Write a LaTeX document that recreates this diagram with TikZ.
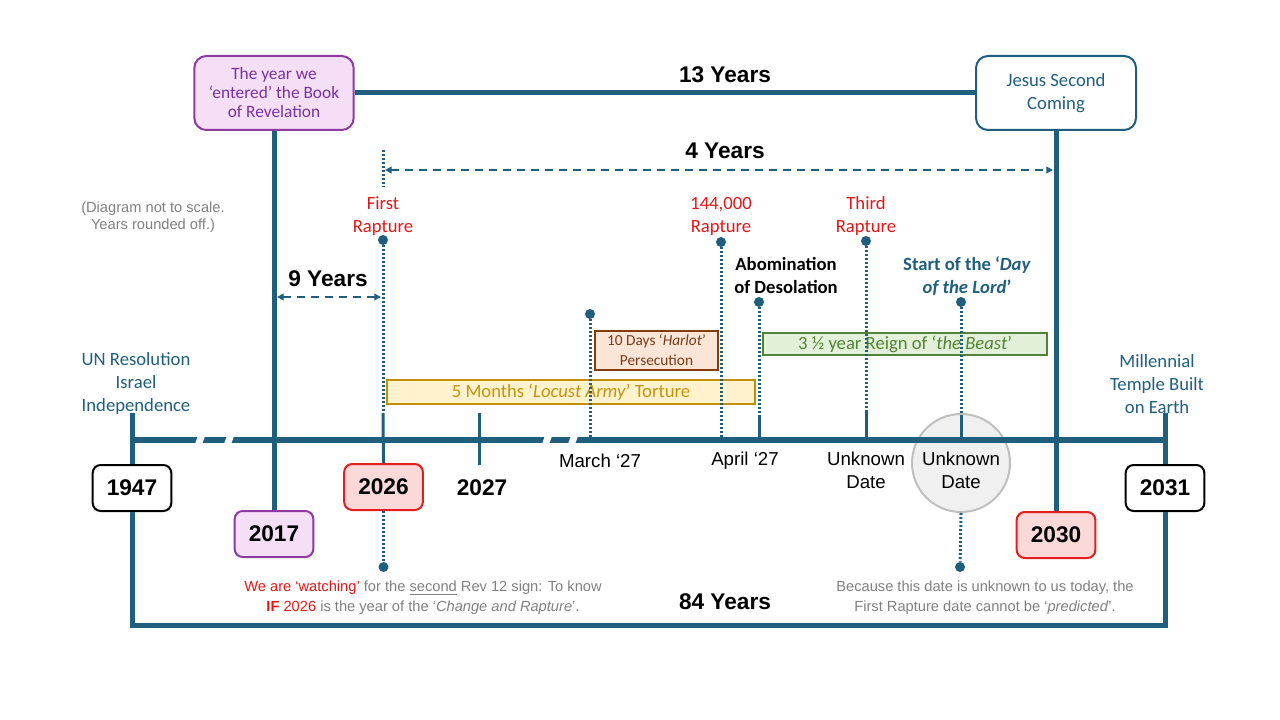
\documentclass[tikz,border=0pt]{standalone}
\usepackage{fontspec}
\setmainfont{Liberation Sans}
\newfontfamily\calibri{Carlito}
\usetikzlibrary{arrows.meta}

\definecolor{tlblue}{RGB}{31,94,125}
\definecolor{revline}{RGB}{142,58,160}
\definecolor{revtext}{RGB}{120,50,160}
\definecolor{revfill}{RGB}{244,223,246}
\definecolor{redline}{RGB}{226,30,30}
\definecolor{redfill}{RGB}{251,217,217}
\definecolor{raptred}{RGB}{230,22,22}
\definecolor{goldline}{RGB}{191,144,0}
\definecolor{goldfill}{RGB}{255,242,204}
\definecolor{goldtext}{RGB}{196,148,10}
\definecolor{greenline}{RGB}{84,130,53}
\definecolor{greenfill}{RGB}{226,240,217}
\definecolor{brownline}{RGB}{132,60,12}
\definecolor{brownfill}{RGB}{251,229,214}
\definecolor{browntext}{RGB}{120,60,28}
\definecolor{notegray}{RGB}{128,128,128}
\definecolor{circfill}{RGB}{240,240,240}
\definecolor{circline}{RGB}{191,191,191}

\newcommand{\headfont}{\fontsize{17pt}{20pt}\selectfont\bfseries}
\newcommand{\labfont}{\calibri\fontsize{14pt}{17.25pt}\selectfont}
\newcommand{\datefont}{\fontsize{14pt}{17.25pt}\selectfont}
\newcommand{\notefont}{\fontsize{11pt}{15pt}\selectfont}

\tikzset{
  mainline/.style={draw=tlblue, line width=3.75pt},
  tlline/.style={draw=tlblue, line width=4.5pt},
  tickline/.style={draw=tlblue, line width=2.25pt},
  dotline/.style={draw=tlblue, line width=2.25pt, dash pattern=on 1.5pt off 1.5pt},
  spanarrow/.style={draw=tlblue, line width=1.5pt, dash pattern=on 6pt off 4.5pt,
    {Triangle[length=5pt,width=5pt]}-{Triangle[length=5pt,width=5pt]}},
  evdot/.style={circle, fill=tlblue, inner sep=0pt, minimum size=7.5pt},
  heading/.style={inner sep=0pt, font=\headfont},
  yearbox/.style={rounded corners=6pt, line width=1.5pt, minimum width=59pt,
    minimum height=34.5pt, inner sep=0pt, font=\headfont},
  topbox/.style={rounded corners=9pt, line width=1.5pt, minimum width=119.5pt,
    minimum height=55.5pt, align=center, inner sep=0pt},
  evlabel/.style={inner sep=0pt, align=center, font=\labfont},
  datelabel/.style={inner sep=0pt, align=center, font=\datefont},
  notelabel/.style={inner sep=0pt, align=center, font=\notefont, text=notegray},
  spanbox/.style={line width=1.5pt, inner sep=0pt, align=center, font=\labfont},
}

\begin{document}
\begin{tikzpicture}[x=0.75pt,y=-0.75pt]
\useasboundingbox (0,0) rectangle (1280,720);

% boxes at the top
\node[topbox, draw=revline, fill=revfill, text=revtext,
  font=\calibri\fontsize{13pt}{14.25pt}\selectfont] (revbox) at (274,93)
  {The year we\\‘entered’ the Book\\of Revelation};
\node[topbox, draw=tlblue, fill=white, text=tlblue, minimum width=120pt, font=\labfont]
  (comingbox) at (1056,93) {Jesus Second\\Coming};
\node[heading] (thirteen) at (725,75) {13 Years};
\draw[mainline] (revbox) -- (comingbox);

% labels
\node[notelabel, text=notegray, font=\fontsize{11pt}{12.75pt}\selectfont] (note) at (153,217)
  {(Diagram not to scale.\\Years rounded off.)};
\node[evlabel, text=tlblue] (un) at (136,384) {UN Resolution\\Israel\\Independence};
\node[evlabel, text=tlblue] (temple) at (1157,384) {Millennial\\Temple Built\\on Earth};
\node[evlabel, text=raptred] (lbl-first) at (383,216) {First\\Rapture};
\node[evlabel, text=raptred] (lbl-144) at (721,216) {144,000\\Rapture};
\node[evlabel, text=raptred] (lbl-third) at (866,216) {Third\\Rapture};
\node[evlabel, font=\labfont\bfseries] (lbl-abom) at (786,276) {Abomination\\of Desolation};
\node[evlabel, text=tlblue, font=\labfont\bfseries] (lbl-day) at (967,276)
  {Start of the ‘\textit{Day}\\\textit{of the Lord}’};

% periods
\node[spanbox, draw=brownline, fill=brownfill, text=browntext,
  font=\calibri\fontsize{11.5pt}{15pt}\selectfont,
  minimum width=92.25pt, minimum height=29.25pt] (harlot) at (656.5,350.5)
  {10 Days ‘\textit{Harlot}’\\Persecution};
\node[spanbox, draw=goldline, fill=goldfill, text=goldtext,
  minimum width=276pt, minimum height=18pt] (locust) at (571,392)
  {5 Months ‘\textit{Locust Army}’ Torture};
\node[spanbox, draw=greenline, fill=greenfill, text=greenline,
  minimum width=213pt, minimum height=16.5pt] (beast) at (905,344)
  {3 ½ year Reign of ‘\textit{the Beast}’};

% unknown date circle
\node[circle, draw=circline, fill=circfill, line width=1.5pt, minimum size=73.5pt,
  inner sep=0pt] (unkcirc) at (961,463) {};
\node[datelabel] (unk2) at (961,470) {Unknown\\Date};

% years
\node[yearbox, draw=black, fill=white] (yr1947) at (132,488) {1947};
\node[yearbox, draw=black, fill=white] (yr2031) at (1165,488) {2031};
\node[yearbox, draw=revline, fill=revfill] (yr2017) at (274,534) {2017};
\node[yearbox, draw=redline, fill=redfill] (yr2026) at (383.5,487) {2026};
\node[yearbox, draw=redline, fill=redfill] (yr2030) at (1056,535) {2030};
\node[heading] (yr2027) at (482,488) {2027};
\node[datelabel] (march) at (600,461) {March ‘27};
\node[datelabel] (april) at (745,461) {April ‘27};
\node[datelabel] (unk1) at (866,470) {Unknown\\Date};

% time line
\coordinate (tl-l) at (132,440);
\coordinate (tl-r) at (1165,440);
\draw[tlline] (tl-l) -- (tl-r);
\foreach \bx in {200,229,547,573}
  \draw[white, line width=5pt] (\bx-3,448) -- (\bx+3,432);

% frame lines
\coordinate (un-foot) at (132,413);
\coordinate (tm-foot) at (1165,413);
\coordinate (bl) at (132,625);
\coordinate (br) at (1165,625);
\draw[mainline] (un-foot) -- (yr1947.north);
\draw[mainline] (yr2031.north) -- (tm-foot);
\draw[mainline] (yr1947.south) -- (bl) -- (br) -- (yr2031.south);
\draw[mainline] (revbox.south) -- (yr2017.north);
\draw[mainline] (comingbox.south) -- (yr2030.north);
\node[heading] (eightyfour) at (725,602) {84 Years};

% spans
\coordinate (four-l) at (385,170);
\coordinate (four-r) at (1053,170);
\draw[spanarrow] (four-l) -- (four-r);
\node[heading] (four) at (725,151) {4 Years};
\coordinate (nine-l) at (277,297);
\coordinate (nine-r) at (381,297);
\draw[spanarrow] (nine-l) -- (nine-r);
\node[heading] (nine) at (328,279) {9 Years};

% events
\coordinate (first-top) at (383,150);
\coordinate (first-mid) at (383,187);
\draw[dotline] (first-top) -- (first-mid);
\node[evdot] (d-first) at (383,240) {};
\coordinate (first-foot) at (383,413);
\draw[dotline] (d-first) -- (first-foot);
\draw[tickline] (first-foot) -- (yr2026.north);
\node[evdot] (d-watch) at (383.5,567) {};
\draw[dotline] (yr2026.south) -- (d-watch);

\coordinate (t27-top) at (479,413);
\coordinate (t27-bot) at (479,465);
\draw[tickline] (t27-top) -- (t27-bot);

\node[evdot] (d-march) at (590,314) {};
\coordinate (march-foot) at (590,440);
\draw[dotline] (d-march) -- (march-foot);

\node[evdot] (d-144) at (721,242) {};
\coordinate (s144-foot) at (721,440);
\draw[dotline] (d-144) -- (s144-foot);

\node[evdot] (d-abom) at (759,302) {};
\coordinate (abom-mid) at (759,415);
\coordinate (abom-foot) at (759,440);
\draw[dotline] (d-abom) -- (abom-mid);
\draw[tickline] (abom-mid) -- (abom-foot);

\node[evdot] (d-third) at (866,241) {};
\coordinate (third-mid) at (866,410);
\coordinate (third-foot) at (866,440);
\draw[dotline] (d-third) -- (third-mid);
\draw[tickline] (third-mid) -- (third-foot);

\node[evdot] (d-day) at (961,302) {};
\coordinate (day-mid) at (961,417);
\coordinate (day-foot) at (961,440);
\draw[dotline] (d-day) -- (day-mid);
\draw[tickline] (day-mid) -- (day-foot);
\node[evdot] (d-because) at (960,567) {};
\draw[dotline] (unkcirc.south) -- (d-because);

% notes at the bottom
\node[notelabel] (watch) at (423,598)
  {{\color{raptred}We are ‘watching’} for the \underline{second} Rev 12 sign: To know\\
   {\color{raptred}\textbf{IF} 2026} is the year of the ‘\textit{Change and Rapture}’.};
\node[notelabel] (because) at (985,598)
  {Because this date is unknown to us today, the\\
   First Rapture date cannot be ‘\textit{predicted}’.};
\end{tikzpicture}
\end{document}
